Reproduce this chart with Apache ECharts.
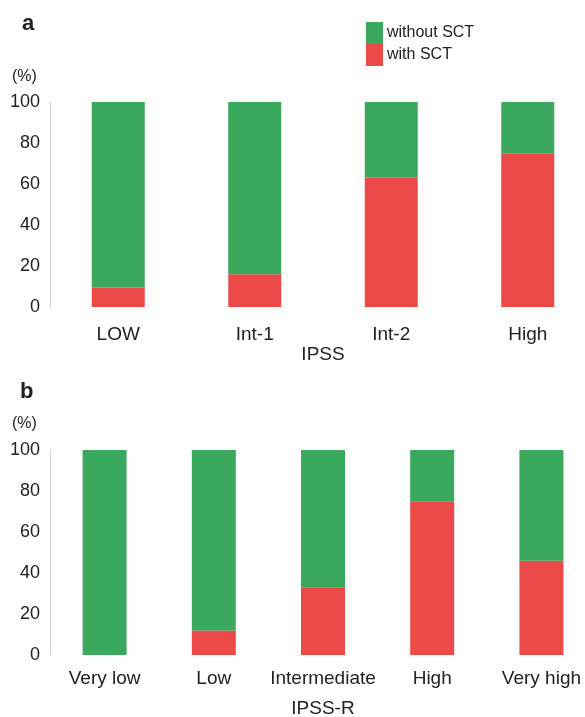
<!DOCTYPE html>
<html>
<head>
<meta charset="utf-8">
<script src="https://cdn.jsdelivr.net/npm/echarts@6/dist/echarts.min.js"></script>
<style>
  html, body { margin: 0; padding: 0; background: #fff; }
  #chart { width: 585px; height: 717px; }
</style>
</head>
<body>
<div id="chart"></div>
<script>
// Panel a: IPSS risk groups
const ipssCategories = ['LOW', 'Int-1', 'Int-2', 'High'];
const ipssWithSct = [9.5, 16, 63, 75];
const ipssWithoutSct = [90.5, 84, 37, 25];

// Panel b: IPSS-R risk groups
const ipssrCategories = ['Very low', 'Low', 'Intermediate', 'High', 'Very high'];
const ipssrWithSct = [0, 12, 33, 75, 46];
const ipssrWithoutSct = [100, 88, 67, 25, 54];

const yTicks = [0, 20, 40, 60, 80, 100];

const GREEN = '#3aa95d';
const RED = '#ec4a48';
const FONT = '"Liberation Sans", Arial, sans-serif';
const TEXT = '#222';

const chart = echarts.init(document.getElementById('chart'), null, { renderer: 'canvas' });

function yAxisFor(gridIndex) {
  return {
    type: 'value', gridIndex,
    min: yTicks[0], max: yTicks[yTicks.length - 1], interval: yTicks[1] - yTicks[0],
    axisLine: { show: true, lineStyle: { color: '#cfcfcf', width: 1 } },
    axisTick: { show: false },
    splitLine: { show: false },
    axisLabel: { color: TEXT, fontSize: 18, fontFamily: FONT, margin: 10 }
  };
}

function xAxisFor(gridIndex, cats, name, nameGap, labelMargin) {
  return {
    type: 'category', gridIndex, data: cats,
    name, nameLocation: 'middle', nameGap,
    nameTextStyle: { color: TEXT, fontSize: 19, fontFamily: FONT },
    axisLine: { show: false }, axisTick: { show: false },
    axisLabel: { color: TEXT, fontSize: 19, fontFamily: FONT, margin: labelMargin, interval: 0 }
  };
}

chart.setOption({
  animation: false,
  backgroundColor: '#fff',
  textStyle: { fontFamily: FONT },
  grid: [
    { left: 50, width: 546, top: 102, height: 205, outerBoundsMode: 'none', containLabel: false },
    { left: 50, width: 546, top: 450, height: 205, outerBoundsMode: 'none', containLabel: false }
  ],
  legend: {
    orient: 'vertical', left: 361, top: 17,
    data: ['without SCT', 'with SCT'],
    icon: 'rect', itemWidth: 17, itemHeight: 22, itemGap: 0,
    textStyle: { color: TEXT, fontSize: 16, fontFamily: FONT, padding: [0, 0, 0, -1] },
    selectedMode: false
  },
  xAxis: [
    xAxisFor(0, ipssCategories, 'IPSS', 37, 18),
    xAxisFor(1, ipssrCategories, 'IPSS-R', 44, 14)
  ],
  yAxis: [yAxisFor(0), yAxisFor(1)],
  graphic: [
    { type: 'text', left: 22, top: 13, style: { text: 'a', fontSize: 22, fontWeight: 'bold', fontFamily: FONT, fill: TEXT } },
    { type: 'text', left: 12, top: 69, style: { text: '(%)', fontSize: 16, fontFamily: FONT, fill: TEXT } },
    { type: 'text', left: 20, top: 381, style: { text: 'b', fontSize: 22, fontWeight: 'bold', fontFamily: FONT, fill: TEXT } },
    { type: 'text', left: 12, top: 416, style: { text: '(%)', fontSize: 16, fontFamily: FONT, fill: TEXT } }
  ],
  series: [
    { name: 'with SCT', type: 'bar', stack: 'a', xAxisIndex: 0, yAxisIndex: 0, barWidth: 53,
      itemStyle: { color: RED }, data: ipssWithSct },
    { name: 'without SCT', type: 'bar', stack: 'a', xAxisIndex: 0, yAxisIndex: 0, barWidth: 53,
      itemStyle: { color: GREEN }, data: ipssWithoutSct },
    { name: 'with SCT', type: 'bar', stack: 'b', xAxisIndex: 1, yAxisIndex: 1, barWidth: 44,
      itemStyle: { color: RED }, data: ipssrWithSct },
    { name: 'without SCT', type: 'bar', stack: 'b', xAxisIndex: 1, yAxisIndex: 1, barWidth: 44,
      itemStyle: { color: GREEN }, data: ipssrWithoutSct }
  ]
});
</script>
</body>
</html>
